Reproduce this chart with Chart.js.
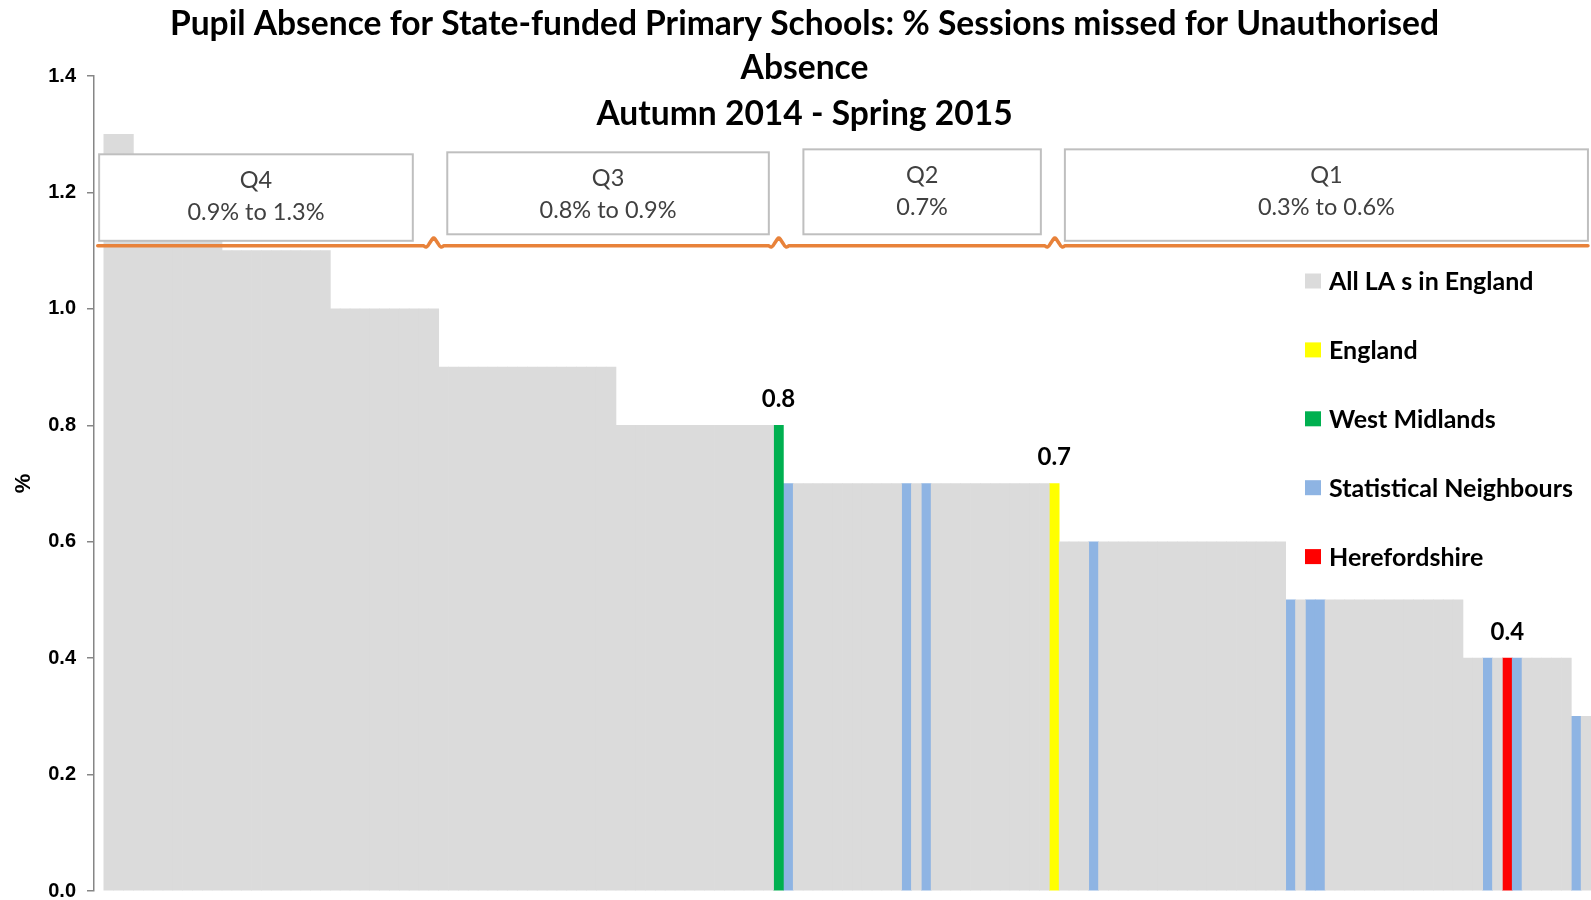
<!DOCTYPE html>
<html>
<head>
<meta charset="utf-8">
<script src="https://cdn.jsdelivr.net/npm/chart.js@4.4.1/dist/chart.umd.min.js"></script>
<style>
  html, body { margin: 0; padding: 0; background: #ffffff; overflow: hidden; }
  #wrap { width: 1591px; height: 900px; position: relative; }
</style>
</head>
<body>
<div id="wrap"><canvas id="chart" width="1591" height="900"></canvas></div>
<script>
// ---------------- DATA ----------------
const titleLines = [
  'Pupil Absence for State-funded Primary Schools: % Sessions missed for Unauthorised',
  'Absence',
  'Autumn 2014 - Spring 2015'
];
const yAxisTitle = '%';
const yTickValues = [0.0, 0.2, 0.4, 0.6, 0.8, 1.0, 1.2, 1.4];

const seriesNames = ['All LA s in England', 'England', 'West Midlands', 'Statistical Neighbours', 'Herefordshire'];

// % sessions missed, one value per bar, sorted (first slot empty)
const absenceValues = [
  null,
  1.3, 1.3, 1.3,
  1.2, 1.2, 1.2, 1.2, 1.2, 1.2, 1.2, 1.2, 1.2,
  1.1, 1.1, 1.1, 1.1, 1.1, 1.1, 1.1, 1.1, 1.1, 1.1, 1.1,
  1.0, 1.0, 1.0, 1.0, 1.0, 1.0, 1.0, 1.0, 1.0, 1.0, 1.0,
  0.9, 0.9, 0.9, 0.9, 0.9, 0.9, 0.9, 0.9, 0.9, 0.9, 0.9, 0.9, 0.9, 0.9, 0.9, 0.9, 0.9, 0.9,
  0.8, 0.8, 0.8, 0.8, 0.8, 0.8, 0.8, 0.8, 0.8, 0.8, 0.8, 0.8, 0.8, 0.8, 0.8, 0.8,
  0.8,
  0.7, 0.7, 0.7, 0.7, 0.7, 0.7, 0.7, 0.7, 0.7, 0.7, 0.7, 0.7, 0.7, 0.7, 0.7, 0.7, 0.7, 0.7,
  0.7, 0.7, 0.7, 0.7, 0.7, 0.7, 0.7, 0.7, 0.7,
  0.7,
  0.6, 0.6, 0.6, 0.6, 0.6, 0.6, 0.6, 0.6, 0.6, 0.6, 0.6, 0.6, 0.6, 0.6, 0.6, 0.6, 0.6, 0.6,
  0.6, 0.6, 0.6, 0.6, 0.6,
  0.5, 0.5, 0.5, 0.5, 0.5, 0.5, 0.5, 0.5, 0.5, 0.5, 0.5, 0.5, 0.5, 0.5, 0.5, 0.5, 0.5, 0.5,
  0.4, 0.4, 0.4, 0.4, 0.4, 0.4, 0.4, 0.4, 0.4, 0.4, 0.4,
  0.3, 0.3
];

// bar positions (category index) of the highlighted areas
const englandBars = [97];
const westMidlandsBars = [69];
const herefordshireBars = [143];
const statNeighbourBars = [70, 82, 84, 101, 121, 123, 124, 141, 144, 150];

const categories = absenceValues.map((v, i) => {
  if (englandBars.includes(i)) return 'England';
  if (westMidlandsBars.includes(i)) return 'West Midlands';
  if (herefordshireBars.includes(i)) return 'Herefordshire';
  return 'LA ' + i;
});

const quartileNames = ['Q4', 'Q3', 'Q2', 'Q1'];
const quartileRanges = ['0.9% to 1.3%', '0.8% to 0.9%', '0.7%', '0.3% to 0.6%'];

// ---------------- STYLE / LAYOUT ----------------
const seriesColors = ['#DBDBDB', '#FFFF00', '#00B050', '#8EB4E3', '#FF0000'];
const showValueFor = [false, true, true, false, true];

// quartile boxes in data units (x: category index, y: %)
const quartileBoxLayout = [
  { from: 0.02,  to: 31.87,  top: 1.2655, bottom: 1.1169 },
  { from: 35.37, to: 68.02,  top: 1.2689, bottom: 1.1281 },
  { from: 71.53, to: 95.64,  top: 1.2740, bottom: 1.1281 },
  { from: 98.08, to: 151.19, top: 1.2740, bottom: 1.1169 }
];
const breakLineLayout = { from: -0.12, to: 151.19, y: 1.1083, breaks: [33.99, 69.03, 97.06] };

function inGroup(i) {
  if (englandBars.includes(i)) return 1;
  if (westMidlandsBars.includes(i)) return 2;
  if (statNeighbourBars.includes(i)) return 3;
  if (herefordshireBars.includes(i)) return 4;
  return 0;
}

const datasets = seriesNames.map((name, s) => ({
  label: name,
  data: absenceValues.map((v, i) => (inGroup(i) === s ? v : null)),
  backgroundColor: seriesColors[s],
  borderWidth: 0,
  barPercentage: 1.0,
  categoryPercentage: 1.0,
  showValue: showValueFor[s]
}));

// ---------------- PLUGINS ----------------
const titlePlugin = {
  id: 'overlayTitle',
  afterDraw(chart) {
    const ctx = chart.ctx;
    ctx.save();
    ctx.fillStyle = '#000';
    ctx.font = 'bold 33.6px Lato';
    ctx.textAlign = 'center';
    ctx.textBaseline = 'middle';
    const cx = chart.width / 2 + 9;
    const ys = [24, 68.5, 114];
    titleLines.forEach((t, i) => ctx.fillText(t, cx, ys[i]));
    ctx.restore();
  }
};

const quartilePlugin = {
  id: 'quartiles',
  afterDatasetsDraw(chart) {
    const ctx = chart.ctx;
    const xs = chart.scales.x, ys = chart.scales.y;
    ctx.save();
    quartileBoxLayout.forEach((b, i) => {
      const x0 = xs.getPixelForValue(b.from), x1 = xs.getPixelForValue(b.to);
      const y0 = ys.getPixelForValue(b.top), y1 = ys.getPixelForValue(b.bottom);
      ctx.fillStyle = '#ffffff';
      ctx.fillRect(x0, y0, x1 - x0, y1 - y0);
      ctx.strokeStyle = '#BFBFBF';
      ctx.lineWidth = 2;
      ctx.strokeRect(x0, y0, x1 - x0, y1 - y0);
      ctx.fillStyle = '#404040';
      ctx.font = '23.5px Lato';
      ctx.textAlign = 'center';
      ctx.textBaseline = 'middle';
      const cx = (x0 + x1) / 2;
      ctx.fillText(quartileNames[i], cx, y0 + 26.5);
      ctx.fillText(quartileRanges[i], cx, y0 + 58);
    });
    // orange break line
    const L = breakLineLayout;
    const y = ys.getPixelForValue(L.y);
    ctx.strokeStyle = '#E8823A';
    ctx.lineWidth = 3.5;
    ctx.lineJoin = 'round';
    ctx.lineCap = 'round';
    ctx.beginPath();
    ctx.moveTo(xs.getPixelForValue(L.from), y);
    L.breaks.forEach(bv => {
      const bx = xs.getPixelForValue(bv);
      ctx.lineTo(bx - 10, y);
      ctx.quadraticCurveTo(bx - 7, y + 3, bx - 4.5, y - 2);
      ctx.lineTo(bx - 1.2, y - 7);
      ctx.quadraticCurveTo(bx, y - 8.5, bx + 1.2, y - 7);
      ctx.lineTo(bx + 4.5, y - 2);
      ctx.quadraticCurveTo(bx + 7, y + 3, bx + 10, y);
    });
    ctx.lineTo(xs.getPixelForValue(L.to), y);
    ctx.stroke();
    ctx.restore();
  }
};

const valueLabelPlugin = {
  id: 'valueLabels',
  afterDatasetsDraw(chart) {
    const ctx = chart.ctx;
    ctx.save();
    ctx.fillStyle = '#000';
    ctx.font = 'bold 24px Lato';
    ctx.textAlign = 'center';
    ctx.textBaseline = 'middle';
    chart.data.datasets.forEach((ds, di) => {
      if (!ds.showValue) return;
      const meta = chart.getDatasetMeta(di);
      meta.data.forEach((el, i) => {
        const v = ds.data[i];
        if (v === null || v === undefined) return;
        ctx.fillText(v.toFixed(1), el.x, el.y - 26);
      });
    });
    ctx.restore();
  }
};

const legendPlugin = {
  id: 'insideLegend',
  afterDraw(chart) {
    const ctx = chart.ctx;
    const x = 1305, y = 281, gap = 68.9;
    ctx.save();
    ctx.font = 'bold 25px Lato';
    ctx.textAlign = 'left';
    ctx.textBaseline = 'middle';
    chart.data.datasets.forEach((ds, i) => {
      const yy = y + i * gap;
      ctx.fillStyle = ds.backgroundColor;
      ctx.fillRect(x, yy - 7.5, 16, 15);
      ctx.fillStyle = '#000';
      ctx.fillText(ds.label, x + 24, yy + 1);
    });
    ctx.restore();
  }
};

// ---------------- CHART ----------------
new Chart(document.getElementById('chart'), {
  type: 'bar',
  data: { labels: categories, datasets: datasets },
  options: {
    responsive: false,
    animation: false,
    devicePixelRatio: 1,
    layout: { padding: { top: 76, right: 0, bottom: 9, left: 0 } },
    plugins: {
      legend: { display: false },
      title: { display: false },
      tooltip: { enabled: false }
    },
    scales: {
      x: { display: false, stacked: true },
      y: {
        stacked: true,
        min: 0,
        max: 1.4,
        afterBuildTicks(scale) { scale.ticks = yTickValues.map(v => ({ value: v })); },
        afterFit(scale) {
          scale.width = 94;
          scale.paddingTop = 0;
          scale.paddingBottom = 0;
        },
        ticks: {
          color: '#000',
          font: { family: 'Liberation Sans', weight: 'bold', size: 20 },
          padding: 11,
          callback: (v) => Number(v).toFixed(1)
        },
        grid: { display: true, drawOnChartArea: false, drawTicks: true, tickLength: 7, color: '#868686', lineWidth: 1.5 },
        border: { display: true, color: '#868686', width: 1.5 },
        title: {
          display: true,
          text: yAxisTitle,
          color: '#000',
          font: { family: 'Liberation Sans', weight: 'bold', size: 22 },
          padding: { top: 11, bottom: 0 }
        }
      }
    }
  },
  plugins: [quartilePlugin, valueLabelPlugin, titlePlugin, legendPlugin]
});
</script>
</body>
</html>
